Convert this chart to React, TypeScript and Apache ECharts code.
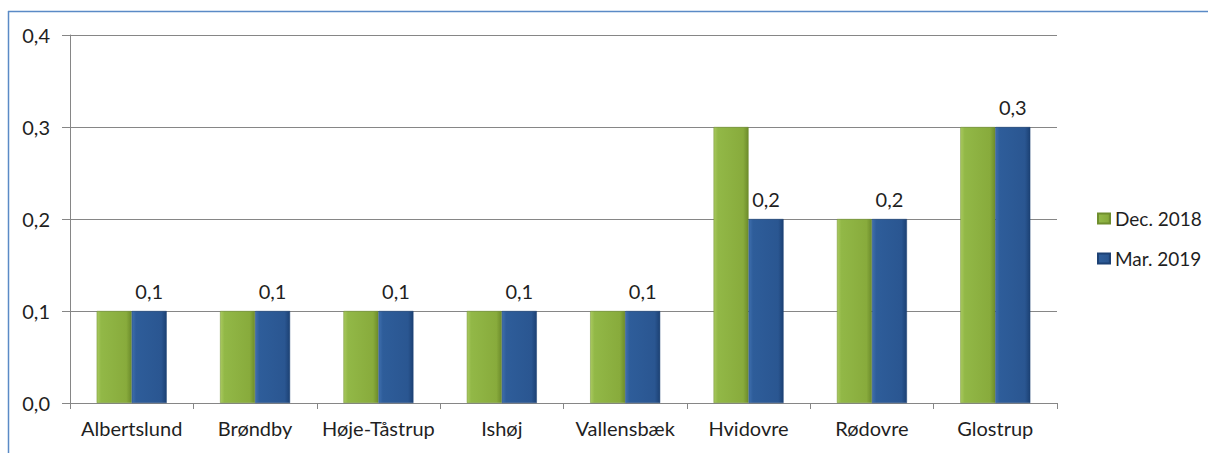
import React, { useEffect, useRef } from "react";
import * as echarts from "echarts";

const categories = ["Albertslund", "Brøndby", "Høje-Tåstrup", "Ishøj", "Vallensbæk", "Hvidovre", "Rødovre", "Glostrup"];
const seriesNames = ["Dec. 2018", "Mar. 2019"];
const dec2018 = [0.1, 0.1, 0.1, 0.1, 0.1, 0.3, 0.2, 0.3];
const mar2019 = [0.1, 0.1, 0.1, 0.1, 0.1, 0.2, 0.2, 0.3];
const yTicks = { min: 0, max: 0.4, interval: 0.1 };

const FONT = "Lato";
const FS = 20;
const TEXT = "#1f1f1f";
const fmt = (v: number) => v.toFixed(1).replace(".", ",");

export default function App() {
  const ref = useRef<HTMLDivElement>(null);
  useEffect(() => {
    document.body.style.margin = "0";
    const chart = echarts.init(ref.current!, null, { renderer: "svg" });
    const greenFill = new echarts.graphic.LinearGradient(0, 0, 1, 0, [
      { offset: 0, color: "#a9c95f" },
      { offset: 0.12, color: "#92b847" },
      { offset: 0.85, color: "#88ab3c" },
      { offset: 1, color: "#6d8c2b" },
    ]);
    const blueFill = new echarts.graphic.LinearGradient(0, 0, 1, 0, [
      { offset: 0, color: "#3f6fae" },
      { offset: 0.12, color: "#2e5d9a" },
      { offset: 0.85, color: "#2a5691" },
      { offset: 1, color: "#1c4174" },
    ]);
    chart.setOption({
      animation: false,
      textStyle: { fontFamily: FONT },
      graphic: [
        { type: "line", shape: { x1: 8, y1: 11.5, x2: 1208, y2: 11.5 }, style: { stroke: "#5a8ac6", lineWidth: 1.5 } },
        { type: "line", shape: { x1: 8.5, y1: 11, x2: 8.5, y2: 453 }, style: { stroke: "#5a8ac6", lineWidth: 1.5 } },
      ],
      grid: { left: 70, right: 151, top: 35, bottom: 50 },
      legend: {
        orient: "vertical",
        left: 1092,
        top: 204,
        itemWidth: 12,
        itemHeight: 10,
        itemGap: 21,
        icon: "rect",
        textStyle: { fontFamily: FONT, fontSize: 19, color: TEXT },
        data: seriesNames,
      },
      xAxis: {
        type: "category",
        data: categories,
        axisLine: { lineStyle: { color: "#868686", width: 1 } },
        axisTick: { show: true, length: 6, lineStyle: { color: "#868686" } },
        axisLabel: { fontFamily: FONT, fontSize: FS, color: TEXT, margin: 15, interval: 0 },
      },
      yAxis: {
        type: "value",
        min: yTicks.min,
        max: yTicks.max,
        interval: yTicks.interval,
        axisLine: { show: true, lineStyle: { color: "#868686", width: 1 } },
        axisTick: { show: true, length: 8, lineStyle: { color: "#868686" } },
        axisLabel: { fontFamily: FONT, fontSize: FS, color: TEXT, margin: 20, formatter: (v: number) => fmt(v) },
        splitLine: { lineStyle: { color: "#868686", width: 1 } },
      },
      series: [
        {
          name: seriesNames[0],
          type: "bar",
          data: dec2018,
          barWidth: 35,
          barGap: "0%",
          itemStyle: { color: greenFill, borderColor: "#6f8e2e", borderWidth: 0.5 },
        },
        {
          name: seriesNames[1],
          type: "bar",
          data: mar2019,
          barWidth: 35,
          barGap: "0%",
          itemStyle: { color: blueFill, borderColor: "#1d4174", borderWidth: 0.5 },
          label: {
            show: true,
            position: "top",
            distance: 10,
            fontFamily: FONT,
            fontSize: FS,
            color: TEXT,
            formatter: (p: any) => fmt(p.value),
          },
        },
      ],
    });
    return () => chart.dispose();
  }, []);
  return <div ref={ref} style={{ width: 1208, height: 453 }} />;
}
